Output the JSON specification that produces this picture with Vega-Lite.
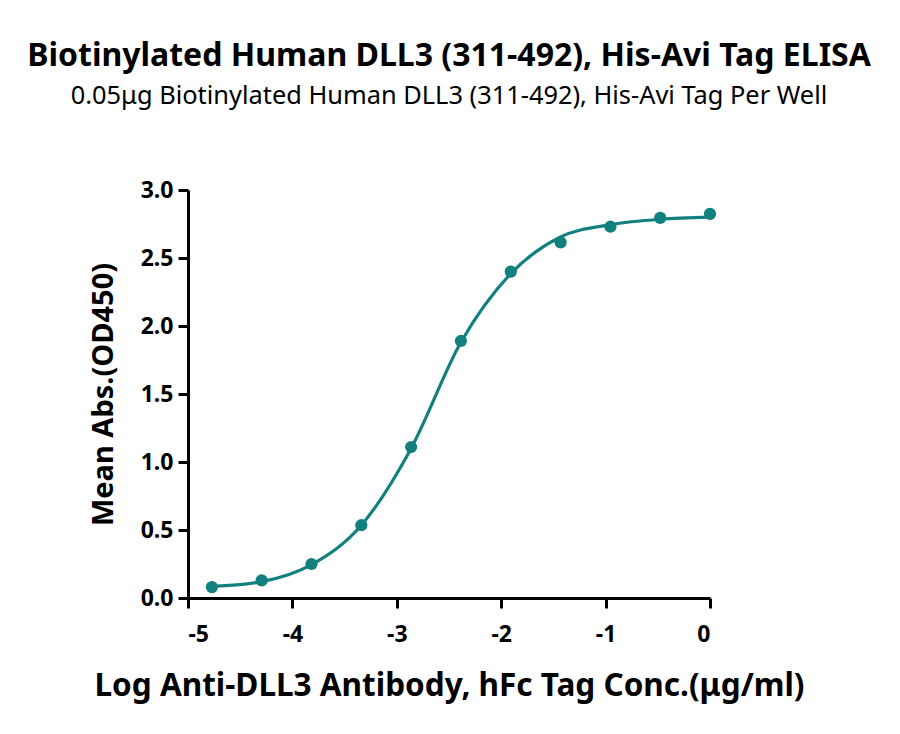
{
  "$schema": "https://vega.github.io/schema/vega-lite/v6.json",
  "autosize": "none",
  "width": 522,
  "height": 408,
  "padding": {"left": 188, "top": 190, "right": 190, "bottom": 136},
  "background": "white",
  "title": {
    "text": "Biotinylated Human DLL3 (311-492), His-Avi Tag ELISA",
    "subtitle": "0.05μg Biotinylated Human DLL3 (311-492), His-Avi Tag Per Well",
    "anchor": "middle",
    "font": "Noto Sans",
    "fontSize": 32,
    "fontWeight": "bold",
    "color": "black",
    "subtitleFont": "Noto Sans",
    "subtitleFontSize": 25.4,
    "subtitleColor": "black",
    "subtitlePadding": 11,
    "offset": 69
  },
  "datasets": {
    "points": [
      {"logc": -4.771, "od": 0.08},
      {"logc": -4.294, "od": 0.13},
      {"logc": -3.817, "od": 0.25},
      {"logc": -3.340, "od": 0.535},
      {"logc": -2.863, "od": 1.11},
      {"logc": -2.386, "od": 1.89},
      {"logc": -1.908, "od": 2.40},
      {"logc": -1.431, "od": 2.615},
      {"logc": -0.954, "od": 2.73},
      {"logc": -0.477, "od": 2.795},
      {"logc": 0.0, "od": 2.825}
    ],
    "fit": [
      {"logc": -4.771, "od": 0.085},
      {"logc": -4.294, "od": 0.12},
      {"logc": -3.817, "od": 0.245},
      {"logc": -3.340, "od": 0.535},
      {"logc": -2.863, "od": 1.10},
      {"logc": -2.386, "od": 1.88},
      {"logc": -1.908, "od": 2.385},
      {"logc": -1.431, "od": 2.655},
      {"logc": -0.954, "od": 2.745},
      {"logc": -0.477, "od": 2.785},
      {"logc": 0.0, "od": 2.80}
    ]
  },
  "encoding": {
    "x": {
      "field": "logc",
      "type": "quantitative",
      "scale": {"domain": [-5, 0], "nice": false, "zero": false},
      "axis": {
        "values": [-5, -4, -3, -2, -1, 0],
        "labelExpr": "toString(datum.value)",
        "title": "Log Anti-DLL3 Antibody, hFc Tag Conc.(μg/ml)",
        "titleFontSize": 31.5,
        "labelPadding": 15,
        "titlePadding": 24,
        "grid": false
      }
    },
    "y": {
      "field": "od",
      "type": "quantitative",
      "scale": {"domain": [0, 3], "nice": false},
      "axis": {
        "values": [0, 0.5, 1, 1.5, 2, 2.5, 3],
        "format": ".1f",
        "title": "Mean Abs.(OD450)",
        "titlePadding": 22,
        "grid": false
      }
    }
  },
  "layer": [
    {
      "data": {"name": "fit"},
      "mark": {"type": "line", "interpolate": "monotone", "color": "#11807f", "strokeWidth": 3.2}
    },
    {
      "data": {"name": "points"},
      "mark": {"type": "circle", "color": "#11807f", "opacity": 1, "size": 150}
    }
  ],
  "config": {
    "view": {"stroke": null},
    "axis": {
      "domainColor": "black",
      "domainWidth": 3,
      "tickColor": "black",
      "tickWidth": 3,
      "tickSize": 10,
      "labelFont": "Noto Sans",
      "labelFontSize": 23,
      "labelFontWeight": "bold",
      "labelColor": "black",
      "labelPadding": 5,
      "titleFont": "Noto Sans",
      "titleFontSize": 29,
      "titleFontWeight": "bold",
      "titleColor": "black"
    }
  }
}
